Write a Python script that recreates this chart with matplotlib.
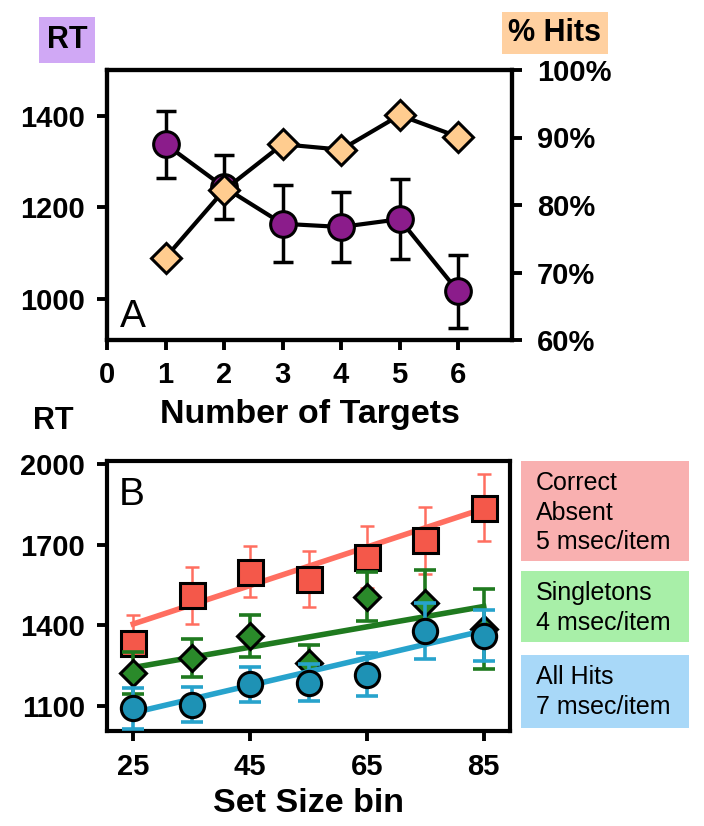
import numpy as np
import matplotlib
matplotlib.use("Agg")
import matplotlib.pyplot as plt
from matplotlib.patches import Rectangle

plt.rcParams['font.family'] = ['Liberation Sans', 'DejaVu Sans']

# panel A: RT and % hits vs number of targets
n_targets = [1, 2, 3, 4, 5, 6]
rt_a = [1338, 1244, 1164, 1157, 1174, 1016]
rt_a_err = [73, 70, 84, 76, 88, 80]
hits_a = [72.2, 82.2, 89.0, 88.2, 93.3, 90.1]

# panel B: RT vs set size bin
set_size = [25, 35, 45, 55, 65, 75, 85]
absent_rt = [1333, 1511, 1600, 1573, 1654, 1716, 1837]
absent_err = [105, 105, 95, 105, 115, 125, 125]
single_rt = [1224, 1278, 1361, 1259, 1507, 1482, 1386]
single_err = [78, 72, 78, 68, 92, 125, 150]
hits_rt = [1091, 1104, 1181, 1187, 1216, 1378, 1361]
hits_err = [75, 65, 65, 68, 80, 105, 95]
# fitted line ends at set size 25 and 85
fit_x = [25, 85]
absent_fit = [1405, 1834]
single_fit = [1243, 1470]
hits_fit = [1075, 1380]

legend_labels = ["Correct\nAbsent\n5 msec/item", "Singletons\n4 msec/item", "All Hits\n7 msec/item"]

W, H = 704, 826
fig = plt.figure(figsize=(W / 100, H / 100), dpi=100)

def style(ax):
    for s in ax.spines.values():
        s.set_linewidth(3)
    ax.tick_params(length=7, width=2.8, labelsize=21)
    for lab in ax.get_xticklabels() + ax.get_yticklabels():
        lab.set_fontweight('bold')

# ---- panel A
axA = fig.add_axes([107 / W, 1 - 340 / H, 405 / W, 270 / H])
axA.errorbar(n_targets, rt_a, yerr=rt_a_err, fmt='none', ecolor='black',
             elinewidth=2.5, capsize=7, capthick=2.5, zorder=2)
axA.plot(n_targets, rt_a, color='black', lw=3, marker='o', ms=18.5,
         mfc='#8B1C8B', mec='black', mew=2.2, zorder=3)
axA.set_xlim(0, 6.92)
axA.set_ylim(910, 1500)
axA.set_xticks(range(0, 7))
axA.set_yticks([1000, 1200, 1400])
axA.set_xlabel("Number of Targets", fontsize=24.5, fontweight='bold', labelpad=7)
axA.tick_params(axis='y', pad=9)
axA.tick_params(axis='x', pad=8)
style(axA)
axA.text(0.033, 0.05, "A", transform=axA.transAxes, fontsize=28)

axA2 = axA.twinx()
axA2.plot(n_targets, hits_a, color='black', lw=3, marker='D', ms=15.5,
          mfc='#FFCC8F', mec='black', mew=2.2, zorder=4)
axA2.set_ylim(60, 100)
axA2.set_yticks([60, 70, 80, 90, 100])
axA2.set_yticklabels([f"{v}%" for v in [60, 70, 80, 90, 100]])
axA2.tick_params(axis='y', pad=11)
style(axA2)

fig.text(67 / W, 1 - 40 / H, "RT", fontsize=22, fontweight='bold', ha='center', va='center',
         bbox=dict(boxstyle='square,pad=0.25', fc='#D0A8F5', ec='none'))
fig.text(555 / W, 1 - 33 / H, "% Hits", fontsize=22, fontweight='bold', ha='center', va='center',
         bbox=dict(boxstyle='square,pad=0.2', fc='#FFD0A0', ec='none'))

# ---- panel B
axB = fig.add_axes([107 / W, 1 - 731 / H, 403 / W, 270 / H])
series = [
    (absent_rt, absent_err, absent_fit, 's', 18, '#F4584A', '#FF6E60', 1.8, 5),
    (single_rt, single_err, single_fit, 'D', 13.5, '#2A8A2A', '#1F7A1F', 2.6, 8),
    (hits_rt, hits_err, hits_fit, 'o', 17.5, '#1E92B5', '#27A3CC', 2.6, 8),
]
for i, (y, err, fit, mk, ms, fc, lc, elw, cs) in enumerate(series):
    axB.errorbar(set_size, y, yerr=err, fmt='none', ecolor=lc, elinewidth=elw,
                 capsize=cs, capthick=elw, zorder=2 + i * 3)
    axB.plot(fit_x, fit, color=lc, lw=4, zorder=3 + i * 3)
    axB.plot(set_size, y, ls='none', marker=mk, ms=ms, mfc=fc, mec='black',
             mew=2.2, zorder=4 + i * 3)
axB.set_xlim(20.5, 89.5)
axB.set_ylim(1007, 2011)
axB.set_xticks([25, 45, 65, 85])
axB.set_yticks([1100, 1400, 1700, 2000])
axB.set_xlabel("Set Size bin", fontsize=24.5, fontweight='bold', labelpad=5)
axB.tick_params(axis='y', pad=9)
axB.tick_params(axis='x', pad=9)
style(axB)
axB.text(0.03, 0.94, "B", transform=axB.transAxes, fontsize=28, va='top')

fig.text(53 / W, 1 - 421 / H, "RT", fontsize=22, fontweight='bold', ha='center', va='center')

# legend boxes
boxes = [(461, 561, '#F9B0B0'), (571, 642, '#A8EFA8'), (655, 728, '#A8D8F8')]
for (top, bot, col), lab in zip(boxes, legend_labels):
    fig.patches.append(Rectangle((521 / W, 1 - bot / H), 168 / W, (bot - top) / H,
                                 transform=fig.transFigure, fc=col, ec='none'))
    fig.text(536 / W, 1 - (top + 10) / H, lab, fontsize=18, va='top', ha='left',
             linespacing=1.3)

fig.savefig("out.png", dpi=100)
